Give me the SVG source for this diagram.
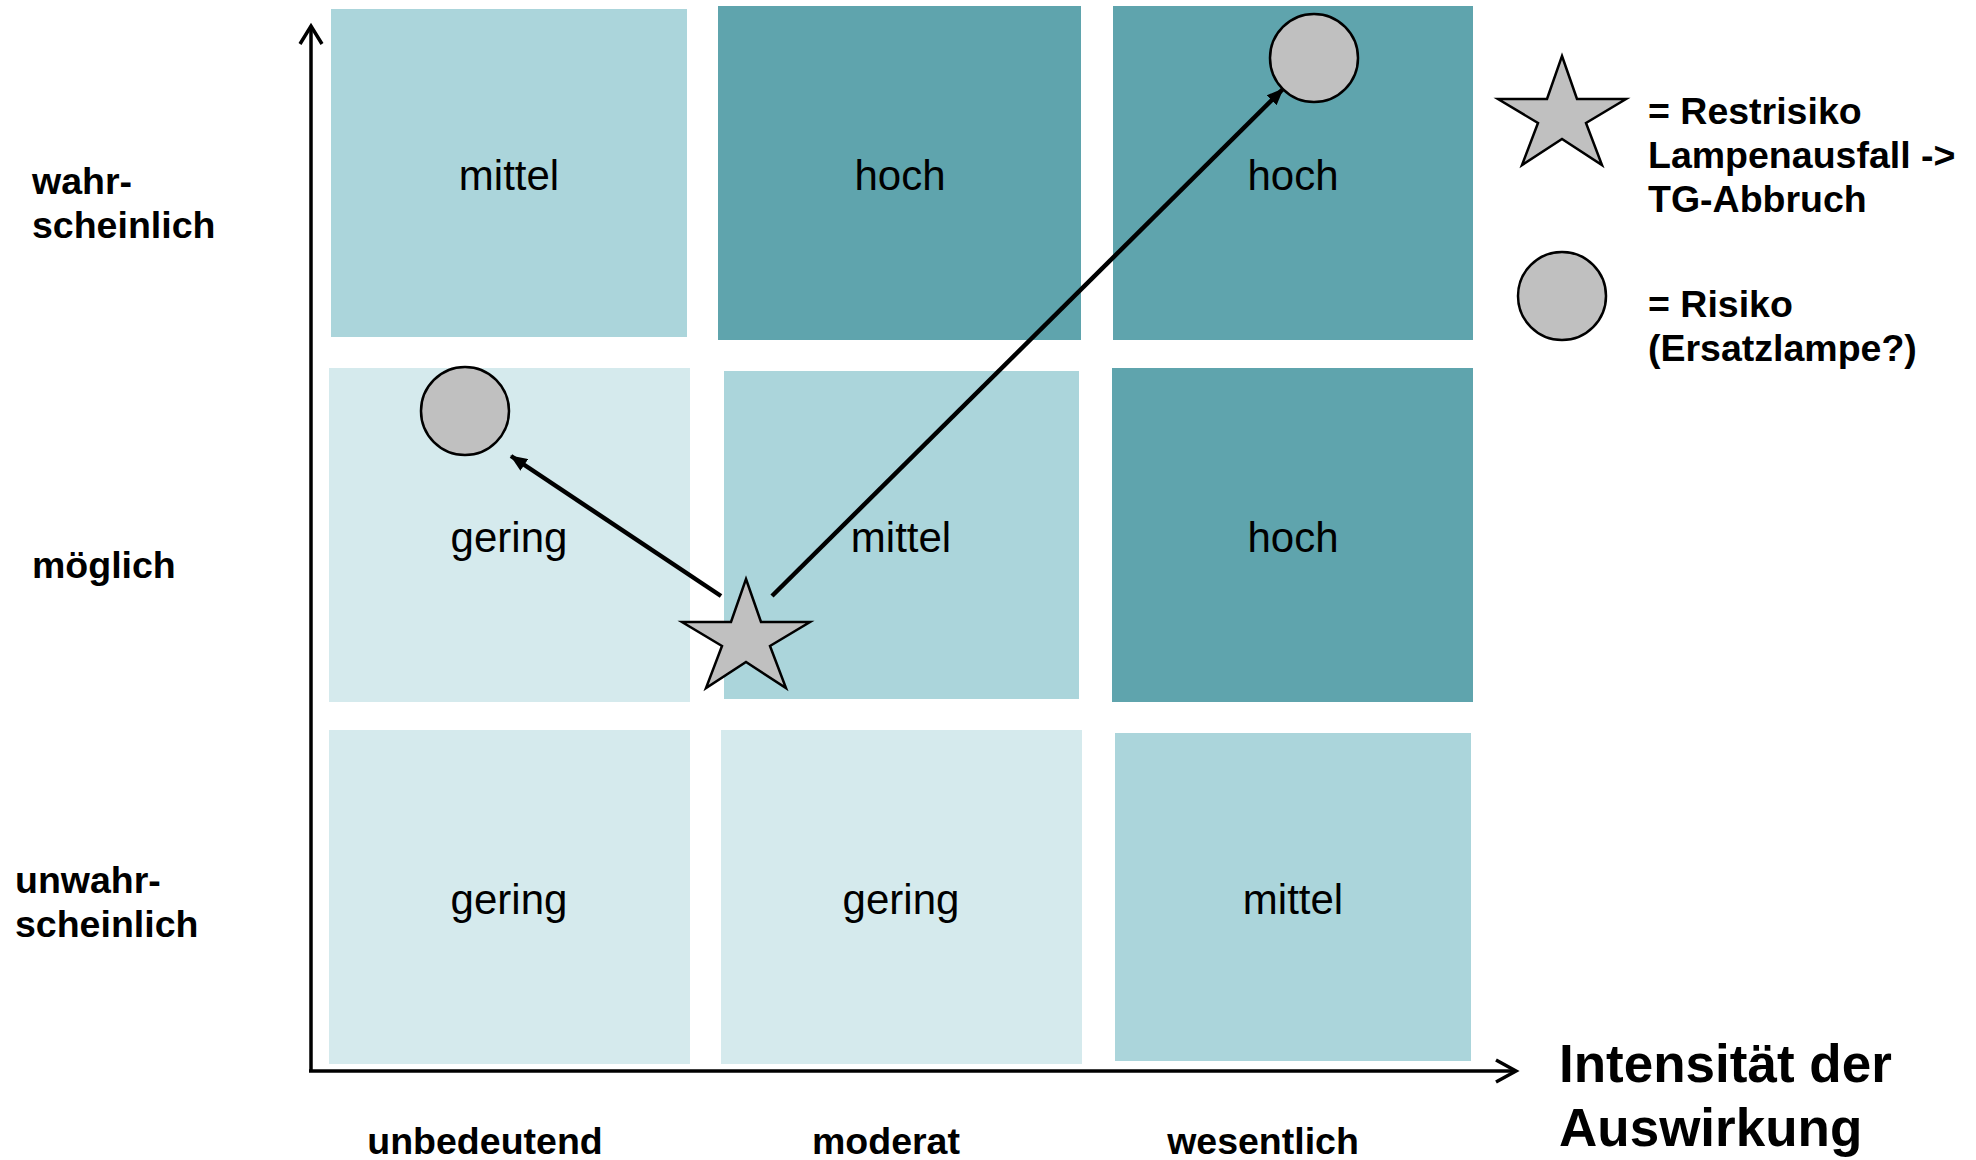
<svg xmlns="http://www.w3.org/2000/svg" width="1976" height="1160" viewBox="0 0 1976 1160">
  <style>
    .low { fill: #d5eaed; }
    .mid { fill: #abd5db; }
    .high { fill: #5fa4ad; }
    .cell-label { font-family: "Liberation Sans", Arial, sans-serif; font-size: 42px; fill: #000; text-anchor: middle; }
    .axis-label { font-family: "Liberation Sans", Arial, sans-serif; font-size: 37.5px; font-weight: bold; fill: #000; }
    .axis-title { font-family: "Liberation Sans", Arial, sans-serif; font-size: 53px; font-weight: bold; fill: #000; }
    .marker-shape { fill: #c0c0c0; stroke: #000; stroke-width: 2.5; }
    .axis { stroke: #000; stroke-width: 3.5; fill: none; }
    .link { stroke: #000; stroke-width: 4.5; fill: none; marker-end: url(#head); }
  </style>
  <defs>
    <marker id="head" markerUnits="userSpaceOnUse" markerWidth="18" markerHeight="14" refX="16" refY="7" orient="auto">
      <path d="M0,0 L17,7 L0,14 Z" fill="#000"/>
    </marker>
    <!-- five-point star, origin at its top tip -->
    <polygon id="star" points="0,0 15,43 64,43 24,67 40,109 0,83 -40,109 -24,67 -64,43 -15,43"/>
  </defs>

  <rect width="1976" height="1160" fill="#fff"/>

  <!-- risk matrix cells: row 1 = wahrscheinlich -->
  <g id="cell-w-u"><rect class="mid" x="331" y="9" width="356" height="328"/><text class="cell-label" x="509" y="190">mittel</text></g>
  <g id="cell-w-m"><rect class="high" x="718" y="6" width="363" height="334"/><text class="cell-label" x="900" y="190">hoch</text></g>
  <g id="cell-w-w"><rect class="high" x="1113" y="6" width="360" height="334"/><text class="cell-label" x="1293" y="190">hoch</text></g>

  <!-- row 2 = möglich -->
  <g id="cell-m-u"><rect class="low" x="329" y="368" width="361" height="334"/><text class="cell-label" x="509" y="552">gering</text></g>
  <g id="cell-m-m"><rect class="mid" x="724" y="371" width="355" height="328"/><text class="cell-label" x="901" y="552">mittel</text></g>
  <g id="cell-m-w"><rect class="high" x="1112" y="368" width="361" height="334"/><text class="cell-label" x="1293" y="552">hoch</text></g>

  <!-- row 3 = unwahrscheinlich -->
  <g id="cell-u-u"><rect class="low" x="329" y="730" width="361" height="334"/><text class="cell-label" x="509" y="914">gering</text></g>
  <g id="cell-u-m"><rect class="low" x="721" y="730" width="361" height="334"/><text class="cell-label" x="901" y="914">gering</text></g>
  <g id="cell-u-w"><rect class="mid" x="1115" y="733" width="356" height="328"/><text class="cell-label" x="1293" y="914">mittel</text></g>

  <!-- axes -->
  <g id="axes">
    <path class="axis" d="M311,1071 L311,26"/>
    <path class="axis" d="M300,44 L311,26 L322,44"/>
    <path class="axis" d="M309,1071 L1516,1071"/>
    <path class="axis" d="M1496,1060 L1516,1071 L1496,1082"/>
  </g>

  <!-- probability labels -->
  <g id="y-labels">
    <text class="axis-label" x="32" y="194">wahr-</text>
    <text class="axis-label" x="32" y="238">scheinlich</text>
    <text class="axis-label" x="32" y="578">möglich</text>
    <text class="axis-label" x="15" y="893">unwahr-</text>
    <text class="axis-label" x="15" y="937">scheinlich</text>
  </g>

  <!-- impact labels -->
  <g id="x-labels">
    <text class="axis-label" x="485" y="1154" text-anchor="middle">unbedeutend</text>
    <text class="axis-label" x="886" y="1154" text-anchor="middle">moderat</text>
    <text class="axis-label" x="1263" y="1154" text-anchor="middle">wesentlich</text>
    <text class="axis-title" x="1559" y="1082">Intensität der</text>
    <text class="axis-title" x="1559" y="1146">Auswirkung</text>
  </g>

  <!-- risk markers -->
  <g id="risk-high"><circle class="marker-shape" cx="1314" cy="58" r="44"/></g>
  <g id="risk-low"><circle class="marker-shape" cx="465" cy="411" r="44"/></g>
  <g id="residual-risk"><use href="#star" class="marker-shape" x="746" y="579"/></g>

  <!-- connectors -->
  <g id="connectors">
    <line class="link" x1="721" y1="596" x2="511" y2="456"/>
    <line class="link" x1="772" y1="596" x2="1283" y2="89"/>
  </g>

  <!-- legend -->
  <g id="legend-star">
    <use href="#star" class="marker-shape" x="1562" y="56"/>
    <text class="axis-label" x="1648" y="124">= Restrisiko</text>
    <text class="axis-label" x="1648" y="168">Lampenausfall -&gt;</text>
    <text class="axis-label" x="1648" y="212">TG-Abbruch</text>
  </g>
  <g id="legend-circle">
    <circle class="marker-shape" cx="1562" cy="296" r="44"/>
    <text class="axis-label" x="1648" y="317">= Risiko</text>
    <text class="axis-label" x="1648" y="361">(Ersatzlampe?)</text>
  </g>
</svg>
